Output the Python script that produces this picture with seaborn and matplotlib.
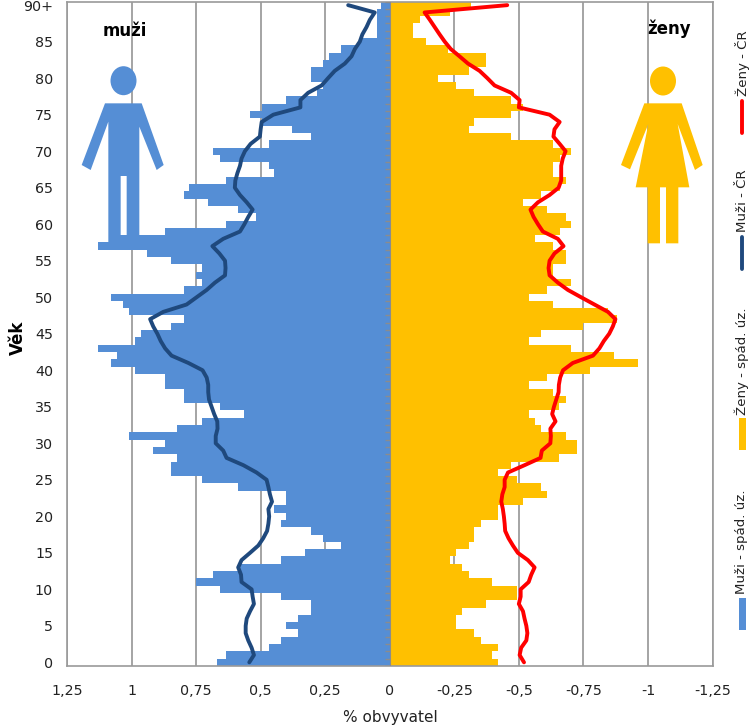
import numpy as np
import seaborn as sns
import matplotlib.pyplot as plt
from matplotlib.patches import Polygon, Ellipse, Rectangle
from matplotlib.lines import Line2D

# age 0 .. 90+
ages = list(range(91))
muzi_spad = [.67, .634, .469, .423, .355, .40, .355, .306, .306, .423,
             .658, .752, .683, .58, .423, .329, .19, .258, .306, .423,
             .40, .447, .40, .40, .588, .729, .847, .847, .823, .916,
             .869, 1.011, .823, .729, .565, .658, .798, .798, .869, .869,
             .986, 1.08, 1.057, 1.13, .986, .963, .847, .798, 1.011, 1.034,
             1.08, .798, .729, .752, .729, .847, .94, 1.13, 1.057, .869,
             .634, .518, .588, .705, .798, .776, .634, .447, .469, .658,
             .683, .469, .306, .377, .494, .54, .494, .40, .282, .258,
             .306, .306, .258, .236, .19, .119, .048, .048, .048, .048, .035]
zeny_spad = [.419, .397, .419, .352, .326, .255, .255, .28, .373, .493,
             .493, .397, .306, .28, .233, .255, .306, .326, .326, .352,
             .419, .419, .516, .609, .587, .493, .419, .47, .655, .727,
             .727, .681, .587, .563, .538, .655, .681, .634, .538, .609,
             .774, .963, .867, .703, .538, .587, .75, .88, .845, .634,
             .538, .609, .703, .634, .634, .681, .681, .634, .563, .658,
             .703, .681, .61, .516, .587, .658, .681, .634, .634, .658,
             .703, .634, .47, .306, .326, .47, .516, .47, .326, .255,
             .187, .306, .373, .373, .226, .14, .09, .09, .116, .233, .313]
muzi_cr = [.544, .526, .535, .548, .558, .558, .554, .541, .526, .531,
           .535, .574, .576, .587, .574, .541, .509, .49, .475, .47,
           .467, .47, .456, .464, .47, .477, .516, .567, .632, .645,
           .674, .674, .667, .668, .68, .69, .70, .703, .703, .709,
           .725, .78, .845, .87, .887, .90, .916, .928, .877, .787,
           .748, .709, .677, .638, .636, .638, .66, .687, .645, .58,
           .563, .548, .531, .554, .58, .60, .598, .59, .58, .574,
           .561, .539, .503, .50, .496, .451, .346, .346, .316, .264,
           .239, .213, .174, .148, .135, .116, .106, .09, .077, .058, .161]
zeny_cr = [.52, .503, .509, .529, .533, .529, .522, .516, .50, .507,
           .507, .538, .548, .561, .535, .496, .477, .46, .447, .445,
           .442, .438, .432, .436, .445, .445, .458, .522, .584, .589,
           .622, .624, .622, .642, .629, .636, .645, .654, .655, .66,
           .671, .709, .787, .812, .829, .85, .864, .874, .845, .793,
           .741, .69, .651, .619, .615, .619, .638, .673, .651, .593,
           .574, .557, .545, .574, .619, .654, .664, .664, .664, .67,
           .681, .658, .634, .638, .658, .619, .50, .503, .47, .406,
           .378, .348, .303, .27, .236, .213, .193, .174, .155, .135, .455]

x_ticks = [1.25, 1, .75, .5, .25, 0, -.25, -.5, -.75, -1, -1.25]
x_labels = ['1,25', '1', '0,75', '0,5', '0,25', '0', '-0,25', '-0,5', '-0,75', '-1', '-1,25']
y_ticks = list(range(0, 95, 5))
y_labels = [str(a) for a in range(0, 90, 5)] + ['90+']

MODRA = '#558ED5'
ZLUTA = '#FFC000'
CERVENA = '#FF0000'
TMAVA = '#1F497D'
SEDA = '#8C8C8C'

W, H = 751, 725
sns.set_style('white')
plt.rcParams['font.family'] = ['DejaVu Sans']

fig = plt.figure(figsize=(W / 100, H / 100), dpi=100)
ax = fig.add_axes([67 / W, (H - 666) / H, 645.5 / W, 664.5 / H])

sns.barplot(x=muzi_spad, y=ages, orient='h', native_scale=True, width=1,
            color=MODRA, saturation=1, linewidth=0, ax=ax, zorder=2)
sns.barplot(x=-np.array(zeny_spad), y=ages, orient='h', native_scale=True, width=1,
            color=ZLUTA, saturation=1, linewidth=0, ax=ax, zorder=2)
sns.lineplot(x=muzi_cr, y=ages, orient='y', sort=False, estimator=None, color=TMAVA,
             linewidth=2.8, ax=ax, zorder=4, solid_joinstyle='round', solid_capstyle='round')
sns.lineplot(x=-np.array(zeny_cr), y=ages, orient='y', sort=False, estimator=None, color=CERVENA,
             linewidth=2.8, ax=ax, zorder=5, solid_joinstyle='round', solid_capstyle='round')

# little ticks on the centre axis, one per age row
ax.hlines(np.arange(-.5, 91), 0, .02, color=SEDA, lw=1, zorder=3)
ax.axvline(0, color=SEDA, lw=.8, zorder=3)

ax.set_xlim(1.25, -1.25)
ax.set_ylim(-.5, 90.5)
ax.set_xticks(x_ticks, x_labels, fontsize=10.3, color='#222222')
ax.set_yticks(y_ticks, y_labels, fontsize=10.3, color='#222222')
ax.tick_params(axis='both', length=0)
ax.tick_params(axis='x', pad=13)
ax.tick_params(axis='y', pad=10)
ax.set_axisbelow(True)
ax.grid(axis='x', color=SEDA, lw=1.1)
ax.grid(axis='y', visible=False)
for s in ax.spines.values():
    s.set_color('#9A9A9A')
    s.set_linewidth(1.2)
ax.set_xlabel('')
ax.set_ylabel('')

def px(x, y):
    return x / W, 1 - y / H

fig.text(*px(390, 717.5), '% obvyvatel', ha='center', va='center', fontsize=11, color='#222222')
fig.text(*px(17.5, 338), 'Věk', ha='center', va='center', rotation=90, fontsize=12, fontweight='bold', color='black')
fig.text(*px(124.5, 31), 'muži', ha='center', va='center', fontsize=12, fontweight='bold', color='black')
fig.text(*px(669.5, 29), 'ženy', ha='center', va='center', fontsize=12, fontweight='bold', color='black')

# figure icons, traced in pixels
def icon(points, head, colour):
    pts = [px(*p) for p in points]
    fig.add_artist(Polygon(pts, closed=True, transform=fig.transFigure, color=colour, lw=0, zorder=6))
    c = px(*head)
    fig.add_artist(Ellipse(c, 26 / W, 29 / H, transform=fig.transFigure, color=colour, lw=0, zorder=6))

muz = [(135, 310), (245, 310), (311, 495), (290, 510), (238, 380), (238, 730), (200, 730), (200, 528),
       (182, 528), (182, 730), (145, 730), (145, 365), (92, 510), (65, 495)]
icon([(60 + x / 3, y / 3) for x, y in muz], (123.5, 80.7), MODRA)
zena = [(778, 310), (890, 310), (953, 495), (930, 510), (878, 372), (913, 562), (880, 562), (880, 730),
        (843, 730), (843, 562), (825, 562), (825, 730), (788, 730), (788, 562), (752, 562), (790, 372),
        (735, 508), (708, 495)]
icon([(385 + x / 3, y / 3) for x, y in zena], (663, 81), ZLUTA)

# legend, rotated by hand
for y0, y1, c in [(101, 133, CERVENA), (237, 269, TMAVA)]:
    fig.add_artist(Line2D([742 / W, 742 / W], [1 - y0 / H, 1 - y1 / H], color=c, lw=2.8,
                          solid_capstyle='round', transform=fig.transFigure))
for y0, y1, c in [(418, 450, ZLUTA), (598, 630, MODRA)]:
    x0, y_b = px(738.5, y1)
    fig.add_artist(Rectangle((x0, y_b), 7.5 / W, (y1 - y0) / H, color=c, lw=0, transform=fig.transFigure))
for y, t in [(96, 'Ženy - ČR'), (232, 'Muži - ČR'), (415, 'Ženy - spád. úz.'), (594, 'Muži - spád. úz.')]:
    fig.text(*px(742, y), t, rotation=90, ha='center', va='bottom', fontsize=9.6, color='#222222')

fig.savefig('out.png', dpi=100)
